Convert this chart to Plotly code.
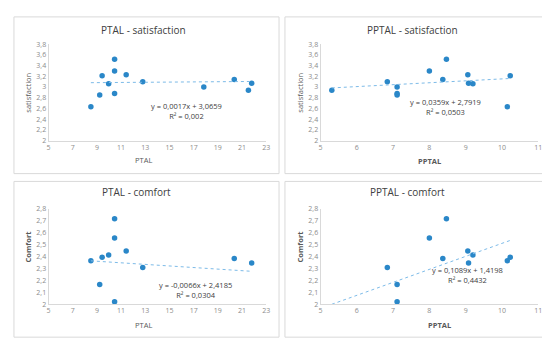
import plotly.graph_objects as go

# Data (13 areas)
ptal = [8.5, 9.23, 9.43, 9.97, 10.46, 10.46, 10.46, 11.42, 12.79, 17.84, 20.36, 21.53, 21.8]
pptal = [10.15, 7.11, 10.23, 9.2, 8.47, 8.0, 7.11, 9.06, 6.84, 7.11, 8.37, 5.31, 9.08]
satisfaction = [2.63, 2.85, 3.21, 3.06, 3.52, 3.30, 2.88, 3.23, 3.10, 3.00, 3.14, 2.94, 3.07]
comfort = [2.363, 2.165, 2.393, 2.412, 2.715, 2.553, 2.019, 2.444, 2.306, None, 2.382, None, 2.344]

# trendline coefficients (slope, intercept, equation text, R2 text)
trends = {
    "p1": (0.0017, 3.0659, "0,0017x + 3,0659", "0,002"),
    "p2": (0.0359, 2.7919, "0,0359x + 2,7919", "0,0503"),
    "p3": (-0.0066, 2.4185, "-0,0066x + 2,4185", "0,0304"),
    "p4": (0.1089, 1.4198, "0,1089x + 1,4198", "0,4432"),
}

W, H = 550, 339
def fx(px): return px / W
def fy(py): return 1 - py / H

panels = [
    dict(k="p1", x=ptal, y=satisfaction, title="PTAL - satisfaction", xt="PTAL", yt="satisfaction",
         xr=[5, 23], dx=2, yr=[2, 3.8], dy=0.2, box=(39, 259, 32, 131), frame=(4, 272, 4, 165),
         tpos=(135, 17), epos=(178, 100.5), xtpos=(135, 151), ytpos=(18, 82), xtbold=False, ytbold=False),
    dict(k="p2", x=pptal, y=satisfaction, title="PPTAL - satisfaction", xt="PPTAL", yt="satisfaction",
         xr=[5, 11], dx=1, yr=[2, 3.8], dy=0.2, box=(314, 534, 32, 131), frame=(278, 546, 4, 165),
         tpos=(407, 17), epos=(440, 97), xtpos=(424, 152), ytpos=(293, 82), xtbold=True, ytbold=False),
    dict(k="p3", x=ptal, y=comfort, title="PTAL - comfort", xt="PTAL", yt="Comfort",
         xr=[5, 23], dx=2, yr=[2, 2.8], dy=0.1, box=(39, 259, 201, 299), frame=(4, 272, 173, 333),
         tpos=(128, 184), epos=(188, 284.5), xtpos=(135, 320), ytpos=(18, 240), xtbold=False, ytbold=True),
    dict(k="p4", x=pptal, y=comfort, title="PPTAL - comfort", xt="PPTAL", yt="Comfort",
         xr=[5, 11], dx=1, yr=[2, 2.8], dy=0.1, box=(314, 534, 201, 299), frame=(278, 546, 173, 333),
         tpos=(402, 184), epos=(463, 269.5), xtpos=(434, 321), ytpos=(293, 240), xtbold=True, ytbold=True),
]

fig = go.Figure()
layout = dict(width=W, height=H, margin=dict(l=0, r=0, t=0, b=0), paper_bgcolor="white",
              plot_bgcolor="white", showlegend=False, separators=", ",
              font=dict(family="Open Sans, Liberation Sans, sans-serif"))
shapes, annotations = [], []
marker_color = "#2a87c8"
tick_font = dict(size=7, color="#8c8c8c")

def ann(text, x, y, size, color, angle=0):
    return dict(text=text, x=fx(x), y=fy(y), xref="paper", yref="paper", showarrow=False,
                xanchor="center", yanchor="middle", align="center", textangle=angle,
                font=dict(size=size, color=color))

for i, p in enumerate(panels, start=1):
    xa = "x" if i == 1 else f"x{i}"
    ya = "y" if i == 1 else f"y{i}"
    pts = [(a, b) for a, b in zip(p["x"], p["y"]) if b is not None]
    fig.add_trace(go.Scatter(x=[a for a, _ in pts], y=[b for _, b in pts], mode="markers",
                             marker=dict(color=marker_color, size=5.5), xaxis=xa, yaxis=ya,
                             cliponaxis=False))
    m, c, eqtxt, r2 = trends[p["k"]]
    xmin, xmax = min(p["x"]), max(p["x"])
    fig.add_trace(go.Scatter(x=[xmin, xmax], y=[m * xmin + c, m * xmax + c], mode="lines",
                             line=dict(color="#7dbbe8", width=1, dash="dot"), xaxis=xa, yaxis=ya))
    x0, x1, yt, yb = p["box"]
    axis_common = dict(showgrid=False, zeroline=False, showline=True, linecolor="#d9d9d9",
                       linewidth=1, ticks="", tickfont=tick_font)
    layout["xaxis" if i == 1 else f"xaxis{i}"] = dict(domain=[fx(x0), fx(x1)], range=p["xr"],
                                                      dtick=p["dx"], tick0=p["xr"][0],
                                                      anchor=ya, **axis_common)
    layout["yaxis" if i == 1 else f"yaxis{i}"] = dict(domain=[fy(yb), fy(yt)], range=p["yr"],
                                                      dtick=p["dy"], tick0=p["yr"][0],
                                                      anchor=xa, **axis_common)
    fx0, fx1, fy0, fy1 = p["frame"]
    shapes.append(dict(type="rect", xref="paper", yref="paper", x0=fx(fx0), x1=fx(fx1),
                       y0=fy(fy1), y1=fy(fy0), line=dict(color="#d9d9d9", width=1)))
    annotations.append(ann(p["title"], p["tpos"][0], p["tpos"][1], 10, "#404040"))
    annotations.append(ann(f"y = {eqtxt}<br>R² = {r2}", p["epos"][0], p["epos"][1], 7.5, "#404040"))
    xtt = f"<b>{p['xt']}</b>" if p["xtbold"] else p["xt"]
    ytt = f"<b>{p['yt']}</b>" if p["ytbold"] else p["yt"]
    annotations.append(ann(xtt, p["xtpos"][0], p["xtpos"][1], 7.5, "#595959"))
    annotations.append(ann(ytt, p["ytpos"][0], p["ytpos"][1], 7.5, "#595959", -90))

layout["shapes"] = shapes
layout["annotations"] = annotations
fig.update_layout(**layout)
fig.write_html("out.html")
